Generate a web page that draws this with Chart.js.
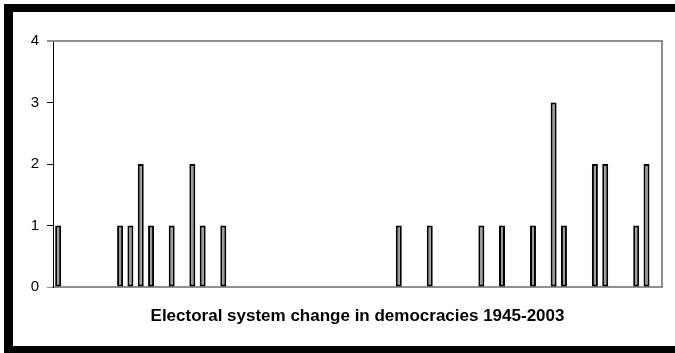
<!DOCTYPE html>
<html>
<head>
<meta charset="utf-8">
<script src="https://cdn.jsdelivr.net/npm/chart.js@4/dist/chart.umd.min.js"></script>
<style>
  html, body { margin: 0; padding: 0; background: #fff; overflow: hidden; }
  #wrap { position: relative; width: 675px; height: 353px; overflow: hidden; }
  #frame {
    position: absolute; left: 4px; top: 4px; width: 760px; height: 349px;
    box-sizing: border-box;
    border-left: 9px solid #000; border-top: 8px solid #000; border-bottom: 7px solid #000;
    border-right: none;
  }
  #chart { position: absolute; left: 0; top: 0; }
</style>
</head>
<body>
<div id="wrap">
  <div id="frame"></div>
  <canvas id="chart" width="675" height="353"></canvas>
</div>
<script>
// Years covered, 1945 through 2003
const years = [];
for (let y = 1945; y <= 2003; y++) years.push(String(y));

// Number of electoral system changes recorded in each year
const changeYears = [1945, 1951, 1952, 1953, 1954, 1956, 1958, 1959, 1961,
                     1978, 1981, 1986, 1988, 1991, 1993, 1994, 1997, 1998, 2001, 2002];
const changeCounts = [1, 1, 1, 2, 1, 1, 2, 1, 1,
                      1, 1, 1, 1, 1, 3, 1, 2, 2, 1, 2];

const yTicks = [0, 1, 2, 3, 4];
const axisTitle = 'Electoral system change in democracies 1945-2003';

const counts = years.map(y => {
  const i = changeYears.indexOf(Number(y));
  return i >= 0 ? changeCounts[i] : 0;
});

// Grey frame along the top and right of the plot area
const plotFrame = {
  id: 'plotFrame',
  afterDatasetsDraw(chart) {
    const { ctx, chartArea: a } = chart;
    ctx.save();
    ctx.strokeStyle = '#8f8f8f';
    ctx.lineWidth = 2;
    ctx.beginPath();
    ctx.moveTo(a.left - 6, a.top);
    ctx.lineTo(a.right, a.top);
    ctx.lineTo(a.right, a.bottom);
    ctx.stroke();
    ctx.restore();
  }
};

new Chart(document.getElementById('chart'), {
  type: 'bar',
  data: {
    labels: years,
    datasets: [{
      data: counts,
      backgroundColor: '#9a9a9a',
      borderColor: '#000',
      borderWidth: 2,
      borderSkipped: false,
      categoryPercentage: 1,
      barPercentage: 0.58
    }]
  },
  options: {
    responsive: false,
    animation: false,
    devicePixelRatio: 1,
    layout: { padding: { left: 0, top: 41, right: 13, bottom: 0 } },
    plugins: { legend: { display: false }, tooltip: { enabled: false } },
    scales: {
      x: {
        grid: { display: false },
        border: { display: true, color: '#8f8f8f', width: 2 },
        ticks: { display: false },
        title: {
          display: true,
          text: axisTitle,
          color: '#000',
          font: { family: 'Arial, "Liberation Sans", sans-serif', size: 17, weight: 'bold' },
          padding: { top: 0, bottom: 26 }
        },
        afterFit(scale) { scale.height = 66; }
      },
      y: {
        min: 0,
        max: 4,
        afterBuildTicks(scale) { scale.ticks = yTicks.map(v => ({ value: v })); },
        grid: {
          drawOnChartArea: false,
          drawTicks: true,
          tickLength: 6,
          tickColor: ctx => (ctx.tick && (ctx.tick.value === 0 || ctx.tick.value === 4)) ? '#8f8f8f' : '#000'
        },
        border: { display: true, color: '#000', width: 1 },
        ticks: {
          color: '#000',
          padding: 8,
          font: { family: 'Arial, "Liberation Sans", sans-serif', size: 15 }
        },
        afterFit(scale) { scale.width = 53; }
      }
    }
  },
  plugins: [plotFrame]
});
</script>
</body>
</html>
